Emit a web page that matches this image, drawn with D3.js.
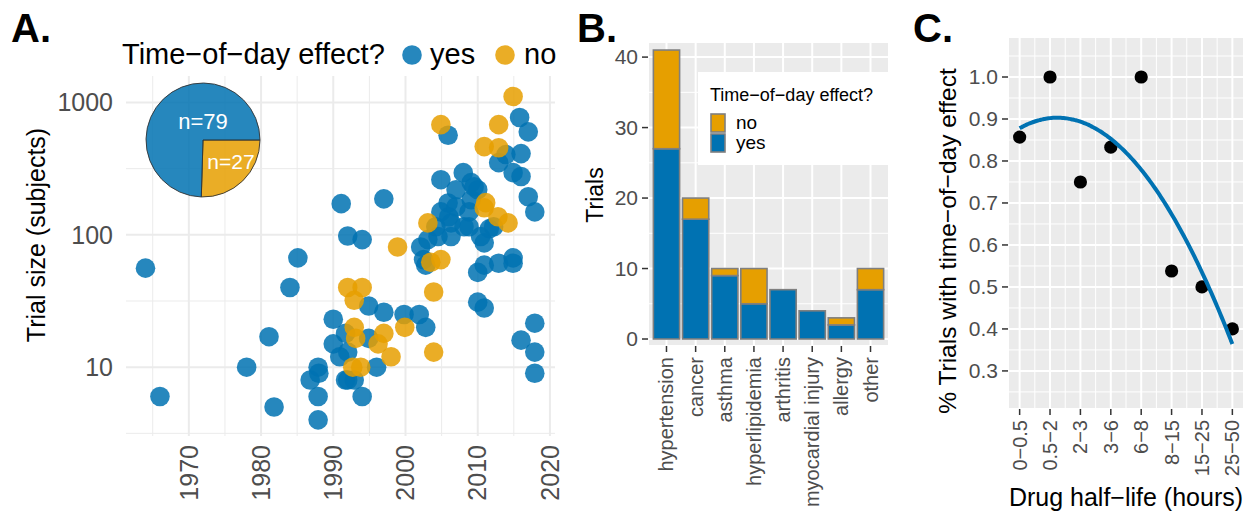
<!DOCTYPE html>
<html>
<head>
<meta charset="utf-8">
<script src="https://cdn.jsdelivr.net/npm/d3@7"></script>
<style>
  body { margin: 0; background: #fff; }
  text { font-family: "Liberation Sans", Arial, sans-serif; }
</style>
</head>
<body>
<svg id="fig" width="1252" height="514"></svg>
<script>
// ---- panel A: trial size vs year ----
const yesYear = [1964.0, 1966.0, 1985.1, 1984.0, 1981.1, 1978.0, 1981.8, 1990.0, 1987.9, 1988.0,
    1986.8, 1987.9, 1987.9, 1990.0, 1990.9, 1991.7, 1991.1, 1997.0, 1992.0, 1994.0,
    2003.1, 2015.8, 2017.0, 2005.9, 2013.9, 2012.9, 2016.0, 2014.9, 2016.0, 2017.0,
    2017.9, 2004.9, 2008.0, 2007.0, 2009.1, 2010.0, 2009.1, 2005.9, 2004.9, 2011.6,
    2008.8, 2006.3, 2004.2, 2010.9, 2002.8, 1994.9, 1997.0, 1999.8, 2001.9, 2002.8,
    1991.7, 1994.9, 1992.0, 1996.0, 1992.0, 1992.9, 1994.0, 2010.9, 2012.9, 2014.9,
    2014.9, 2010.0, 2010.0, 2010.9, 2017.9, 2016.0, 2017.9, 2017.9, 2002.5, 2009.5,
    2006.0, 2008.1, 2004.5, 2006.3, 2010.4, 2012.2, 2007.0, 2008.8, 2002.1];
const yesSize = [56, 6, 67, 40, 17, 10, 5, 23, 10, 9,
    8, 6, 4, 15, 12, 8, 172, 187, 98, 92,
    92, 770, 600, 565, 404, 351, 411, 295, 276, 194,
    149, 261, 295, 219, 248, 219, 184, 174, 149, 111,
    115, 123, 115, 87, 59, 29, 26, 25, 25, 20,
    18, 16.5, 13, 10, 8, 8, 6, 59, 61, 67,
    61, 52, 31, 28, 21.5, 16, 13, 9, 65, 231,
    137, 115, 97, 97, 97, 115, 163, 149, 81];
const noYear = [2014.9, 2004.9, 2012.9, 2010.9, 2012.9, 2010.9, 2012.8, 2014.2, 2003.1, 1998.9,
    2004.9, 2003.9, 2003.9, 1992.0, 1994.0, 1992.9, 1999.9, 1992.9, 1997.0, 1996.2,
    1998.0, 1992.7, 1993.8, 2011.1, 1993.1, 2003.5];
const noSize = [1110, 680, 680, 464, 455, 160, 137, 123, 123, 81,
    65, 37, 13, 40, 40, 32, 20, 20, 18, 15,
    12, 10, 10, 175, 16.5, 62];
const pieLabels = ["yes", "no"];
const pieCounts = [79, 27];
const yearTicks = [1970, 1980, 1990, 2000, 2010, 2020];
const sizeTicks = [10, 100, 1000];

// ---- panel B: trials per indication ----
const indications = ["hypertension", "cancer", "asthma", "hyperlipidemia", "arthritis",
    "myocardial injury", "allergy", "other"];
const trialsYes = [27, 17, 9, 5, 7, 4, 2, 7];
const trialsNo = [14, 3, 1, 5, 0, 0, 1, 3];
const trialTicks = [0, 10, 20, 30, 40];

// ---- panel C: share with effect by half-life ----
const halfLives = ["0\u22120.5", "0.5\u22122", "2\u22123", "3\u22126", "6\u22128", "8\u221215", "15\u221225", "25\u221250"];
const shareEffect = [0.857, 1.0, 0.75, 0.833, 1.0, 0.538, 0.5, 0.4];
const shareTicks = [0.3, 0.4, 0.5, 0.6, 0.7, 0.8, 0.9, 1.0];

const BLUE = "#0072B2", ORANGE = "#E69F00";
const svg = d3.select("#fig");

function panelTitle(txt, x) {
    svg.append("text").attr("x", x).attr("y", 42)
        .attr("font-family", "'Open Sans', sans-serif").attr("font-weight", 800)
        .attr("font-size", 40).text(txt);
}

// ================= A =================
{
    const x = d3.scaleLinear().domain([1961.3, 2020.7]).range([126, 555]);
    const y = d3.scaleLog().domain([Math.pow(10, 0.48), Math.pow(10, 3.2)]).range([436, 76]);
    const g = svg.append("g");
    const [x0, x1] = x.range(), [y0, y1] = y.range();

    const minorX = d3.range(1965, 2020, 10);
    const minorY = [0.5, 1.5, 2.5].map(e => Math.pow(10, e));
    g.selectAll(".mx").data(minorX).join("line")
        .attr("x1", d => x(d)).attr("x2", d => x(d)).attr("y1", y0).attr("y2", y1)
        .attr("stroke", "#ebebeb").attr("stroke-width", 1);
    g.selectAll(".my").data(minorY).join("line")
        .attr("y1", d => y(d)).attr("y2", d => y(d)).attr("x1", x0).attr("x2", x1)
        .attr("stroke", "#ebebeb").attr("stroke-width", 1);
    g.selectAll(".gx").data(yearTicks.filter(d => x(d) <= x1)).join("line")
        .attr("x1", d => x(d)).attr("x2", d => x(d)).attr("y1", y0).attr("y2", y1)
        .attr("stroke", "#ebebeb").attr("stroke-width", 2);
    g.selectAll(".gy").data(sizeTicks).join("line")
        .attr("y1", d => y(d)).attr("y2", d => y(d)).attr("x1", x0).attr("x2", x1)
        .attr("stroke", "#ebebeb").attr("stroke-width", 2);

    // points, in the order they were read
    const pts = yesYear.map((d, i) => ({ yr: d, n: yesSize[i], c: BLUE }))
        .concat(noYear.map((d, i) => ({ yr: d, n: noSize[i], c: ORANGE })));
    g.selectAll("circle.pt").data(pts).join("circle")
        .attr("cx", d => x(d.yr)).attr("cy", d => y(d.n)).attr("r", 9.8)
        .attr("fill", d => d.c).attr("fill-opacity", 0.85);

    // axes text
    g.selectAll(".ty").data(sizeTicks).join("text")
        .attr("x", 113).attr("y", d => y(d)).attr("dy", "0.35em")
        .attr("text-anchor", "end").attr("font-size", 25).attr("fill", "#4d4d4d")
        .text(d => d);
    g.selectAll(".tx").data(yearTicks).join("text")
        .attr("transform", d => `translate(${x(d)},445) rotate(-90)`)
        .attr("dy", "0.35em").attr("text-anchor", "end")
        .attr("font-size", 25).attr("fill", "#4d4d4d").text(d => d);
    g.append("text").attr("transform", "translate(36,235) rotate(-90)")
        .attr("dy", "0.35em").attr("text-anchor", "middle").attr("font-size", 25)
        .text("Trial size (subjects)");

    // legend
    g.append("text").attr("x", 122).attr("y", 64).attr("font-size", 29)
        .text("Time\u2212of\u2212day effect?");
    const leg = [{ k: "yes", c: BLUE, cx: 412, tx: 430 }, { k: "no", c: ORANGE, cx: 505, tx: 524 }];
    g.selectAll(".lc").data(leg).join("circle")
        .attr("cx", d => d.cx).attr("cy", 55).attr("r", 9.8)
        .attr("fill", d => d.c).attr("fill-opacity", 0.85);
    g.selectAll(".lt").data(leg).join("text")
        .attr("x", d => d.tx).attr("y", 64).attr("font-size", 29).text(d => d.k);

    // pie inset
    const pieData = d3.pie().sort(null)
        .startAngle(Math.PI / 2).endAngle(Math.PI / 2 + 2 * Math.PI)
        .value(d => d.n)([{ k: "no", n: pieCounts[1] }, { k: "yes", n: pieCounts[0] }]);
    const arc = d3.arc().innerRadius(0).outerRadius(57);
    const pg = g.append("g").attr("transform", "translate(203,140)");
    pg.selectAll("path").data(pieData).join("path")
        .attr("d", arc).attr("fill", d => d.data.k === "yes" ? BLUE : ORANGE)
        .attr("fill-opacity", 0.85).attr("stroke", "#333").attr("stroke-width", 0.9);
    pg.append("text").attr("x", 0).attr("y", -19).attr("dy", "0.35em")
        .attr("text-anchor", "middle").attr("fill", "#fff").attr("font-size", 22)
        .attr("font-family", "'Open Sans', sans-serif")
        .text("n=" + pieCounts[pieLabels.indexOf("yes")]);
    pg.append("text").attr("x", 28).attr("y", 22).attr("dy", "0.35em")
        .attr("text-anchor", "middle").attr("fill", "#fff").attr("font-size", 21)
        .attr("font-family", "'Open Sans', sans-serif")
        .text("n=" + pieCounts[pieLabels.indexOf("no")]);

    panelTitle("A.", 11);
}

// ================= B =================
{
    const x = d3.scalePoint().domain(indications).range([649, 888]).padding(0.6);
    const y = d3.scaleLinear().domain([-0.85, 42]).range([345, 43]);
    const g = svg.append("g");
    const [x0, x1] = x.range(), [y0, y1] = y.range();

    g.append("rect").attr("x", x0).attr("y", y1).attr("width", x1 - x0).attr("height", y0 - y1)
        .attr("fill", "#ebebeb");
    g.selectAll(".my").data([5, 15, 25, 35]).join("line")
        .attr("x1", x0).attr("x2", x1).attr("y1", d => y(d)).attr("y2", d => y(d))
        .attr("stroke", "#fff").attr("stroke-width", 1);
    g.selectAll(".gy").data(trialTicks).join("line")
        .attr("x1", x0).attr("x2", x1).attr("y1", d => y(d)).attr("y2", d => y(d))
        .attr("stroke", "#fff").attr("stroke-width", 2);
    g.selectAll(".gx").data(indications).join("line")
        .attr("x1", d => x(d)).attr("x2", d => x(d)).attr("y1", y0).attr("y2", y1)
        .attr("stroke", "#fff").attr("stroke-width", 2);

    const bw = x.step() * 0.9;
    const rows = indications.map((c, i) => ({ c, yes: trialsYes[i], no: trialsNo[i] }));
    const stack = d3.stack().keys(["yes", "no"])(rows);
    g.selectAll(".layer").data(stack).join("g")
        .attr("fill", d => d.key === "yes" ? BLUE : ORANGE)
        .selectAll("rect").data(d => d.filter(s => s[1] > s[0])).join("rect")
        .attr("x", d => x(d.data.c) - bw / 2).attr("width", bw)
        .attr("y", d => y(d[1])).attr("height", d => y(d[0]) - y(d[1]))
        .attr("stroke", "#7f7f7f").attr("stroke-width", 1.6);

    // axes
    g.selectAll(".tk").data(trialTicks).join("line")
        .attr("x1", x0 - 7).attr("x2", x0 - 1).attr("y1", d => y(d)).attr("y2", d => y(d))
        .attr("stroke", "#333").attr("stroke-width", 1.5);
    g.selectAll(".ty").data(trialTicks).join("text")
        .attr("x", x0 - 11).attr("y", d => y(d)).attr("dy", "0.35em")
        .attr("text-anchor", "end").attr("font-size", 21).attr("fill", "#4d4d4d").text(d => d);
    g.selectAll(".tkx").data(indications).join("line")
        .attr("x1", d => x(d)).attr("x2", d => x(d)).attr("y1", y0 + 1).attr("y2", y0 + 7)
        .attr("stroke", "#333").attr("stroke-width", 1.5);
    g.selectAll(".tx").data(indications).join("text")
        .attr("transform", d => `translate(${x(d)},${y0 + 12}) rotate(-90)`)
        .attr("dy", "0.35em").attr("text-anchor", "end")
        .attr("font-size", 20).attr("fill", "#4d4d4d").text(d => d);
    g.append("text").attr("transform", "translate(595,195) rotate(-90)")
        .attr("dy", "0.35em").attr("text-anchor", "middle").attr("font-size", 23).text("Trials");

    // legend box
    const lg = g.append("g").attr("transform", "translate(698,72)");
    lg.append("rect").attr("width", 190).attr("height", 93).attr("fill", "#fff");
    lg.append("text").attr("x", 12).attr("y", 29).attr("font-size", 18)
        .text("Time\u2212of\u2212day effect?");
    const keys = [{ k: "no", c: ORANGE }, { k: "yes", c: BLUE }];
    lg.selectAll(".kr").data(keys).join("rect")
        .attr("x", 13).attr("y", (d, i) => 42 + i * 20).attr("width", 14).attr("height", 18)
        .attr("fill", d => d.c).attr("stroke", "#7f7f7f").attr("stroke-width", 1.6);
    lg.selectAll(".kt").data(keys).join("text")
        .attr("x", 38).attr("y", (d, i) => 50 + i * 20).attr("dy", "0.35em")
        .attr("font-size", 19).text(d => d.k);

    panelTitle("B.", 577);
}

// ================= C =================
{
    const pos = halfLives.map((d, i) => i + 1);
    const x = d3.scaleLinear().domain([0.65, 8.35]).range([1009, 1243]);
    const y = d3.scaleLinear().domain([0.2117, 1.0929]).range([408, 38]);
    const g = svg.append("g");
    const [x0, x1] = x.range(), [y0, y1] = y.range();

    g.append("rect").attr("x", x0).attr("y", y1).attr("width", x1 - x0).attr("height", y0 - y1)
        .attr("fill", "#ebebeb");
    const minorX = pos.slice(0, -1).map(p => p + 0.5);
    const minorY = d3.range(0.25, 1.09, 0.1);
    g.selectAll(".mx").data(minorX).join("line")
        .attr("x1", d => x(d)).attr("x2", d => x(d)).attr("y1", y0).attr("y2", y1)
        .attr("stroke", "#fff").attr("stroke-width", 1);
    g.selectAll(".my").data(minorY).join("line")
        .attr("x1", x0).attr("x2", x1).attr("y1", d => y(d)).attr("y2", d => y(d))
        .attr("stroke", "#fff").attr("stroke-width", 1);
    g.selectAll(".gx").data(pos).join("line")
        .attr("x1", d => x(d)).attr("x2", d => x(d)).attr("y1", y0).attr("y2", y1)
        .attr("stroke", "#fff").attr("stroke-width", 2);
    g.selectAll(".gy").data(shareTicks).join("line")
        .attr("x1", x0).attr("x2", x1).attr("y1", d => y(d)).attr("y2", d => y(d))
        .attr("stroke", "#fff").attr("stroke-width", 2);

    g.selectAll("circle").data(shareEffect).join("circle")
        .attr("cx", (d, i) => x(pos[i])).attr("cy", d => y(d)).attr("r", 6.6).attr("fill", "#000");

    // quadratic least-squares smooth, as geom_smooth(method = lm, y ~ poly(x, 2))
    const n = pos.length, mx = d3.mean(pos);
    const t = pos.map(p => p - mx);
    const s2 = d3.sum(t, v => v * v), s4 = d3.sum(t, v => v ** 4);
    const sy = d3.sum(shareEffect), sty = d3.sum(t, (v, i) => v * shareEffect[i]);
    const st2y = d3.sum(t, (v, i) => v * v * shareEffect[i]);
    const b = sty / s2;
    const c = (st2y - s2 * sy / n) / (s4 - s2 * s2 / n);
    const a = (sy - c * s2) / n;
    const fit = d3.range(1, 8.001, 0.05).map(p => [p, a + b * (p - mx) + c * (p - mx) ** 2]);
    g.append("path").datum(fit)
        .attr("d", d3.line().x(d => x(d[0])).y(d => y(d[1])).curve(d3.curveBasis))
        .attr("fill", "none").attr("stroke", BLUE).attr("stroke-width", 4);

    // axes
    g.selectAll(".tk").data(shareTicks).join("line")
        .attr("x1", x0 - 7).attr("x2", x0 - 1).attr("y1", d => y(d)).attr("y2", d => y(d))
        .attr("stroke", "#333").attr("stroke-width", 1.5);
    g.selectAll(".ty").data(shareTicks).join("text")
        .attr("x", x0 - 11).attr("y", d => y(d)).attr("dy", "0.35em")
        .attr("text-anchor", "end").attr("font-size", 21).attr("fill", "#4d4d4d")
        .text(d => d.toFixed(1));
    g.selectAll(".tkx").data(pos).join("line")
        .attr("x1", d => x(d)).attr("x2", d => x(d)).attr("y1", y0 + 1).attr("y2", y0 + 7)
        .attr("stroke", "#333").attr("stroke-width", 1.5);
    g.selectAll(".tx").data(halfLives).join("text")
        .attr("transform", (d, i) => `translate(${x(pos[i])},${y0 + 12}) rotate(-90)`)
        .attr("dy", "0.35em").attr("text-anchor", "end")
        .attr("font-size", 20).attr("fill", "#4d4d4d").text(d => d);
    g.append("text").attr("transform", "translate(947,241) rotate(-90)")
        .attr("dy", "0.35em").attr("text-anchor", "middle").attr("font-size", 24.5)
        .text("% Trials with time\u2212of\u2212day effect");
    g.append("text").attr("x", 1126).attr("y", 497).attr("dy", "0.35em")
        .attr("text-anchor", "middle").attr("font-size", 25)
        .text("Drug half\u2212life (hours)");

    panelTitle("C.", 913);
}
</script>
</body>
</html>
